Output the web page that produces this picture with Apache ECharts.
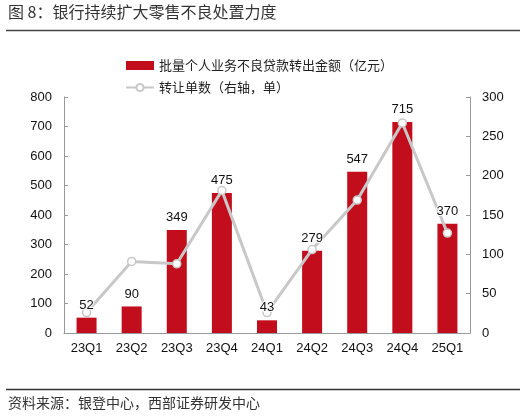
<!DOCTYPE html>
<html>
<head>
<meta charset="utf-8">
<script src="https://cdn.jsdelivr.net/npm/echarts@6/dist/echarts.min.js"></script>
<style>
  html, body { margin: 0; padding: 0; background: #fff; }
  #chart { width: 527px; height: 419px; }
</style>
</head>
<body>
<div id="chart"></div>
<script>
// 数据
var quarters = ['23Q1', '23Q2', '23Q3', '23Q4', '24Q1', '24Q2', '24Q3', '24Q4', '25Q1'];
var amounts = [52, 90, 349, 475, 43, 279, 547, 715, 370];   // 批量个人业务不良贷款转出金额（亿元）
var counts = [26, 91, 88, 181, 26, 106, 169, 267, 127];     // 转让单数（右轴，单）

var font = 'Liberation Sans, Arial, sans-serif';
var cjk = 'Noto Sans CJK SC, sans-serif';

var dom = document.getElementById('chart');
var myChart = echarts.init(dom);
var option = {
    animation: false,
    backgroundColor: '#fff',
    graphic: [
        { type: 'text', left: 8, top: 4, style: { text: '图 8：银行持续扩大零售不良处置力度', font: '16px ' + cjk, fill: '#333' } },
        { type: 'line', shape: { x1: 6, y1: 30.5, x2: 520, y2: 30.5 }, style: { stroke: '#444', lineWidth: 1.5 } },
        { type: 'line', shape: { x1: 6, y1: 389.5, x2: 520, y2: 389.5 }, style: { stroke: '#333', lineWidth: 1.5 } },
        { type: 'text', left: 8, top: 396, style: { text: '资料来源：银登中心，西部证券研发中心', font: '14px ' + cjk, fill: '#333' } }
    ],
    legend: {
        orient: 'vertical',
        left: 120,
        top: 54,
        itemGap: 9,
        itemWidth: 28,
        itemHeight: 9,
        textStyle: { fontFamily: cjk, fontSize: 13, color: '#222' },
        data: [
            { name: '批量个人业务不良贷款转出金额（亿元）', icon: 'rect' },
            { name: '转让单数（右轴，单）' }
        ]
    },
    grid: { left: 64, right: 57, top: 97, bottom: 86 },
    xAxis: {
        type: 'category',
        data: quarters,
        axisLine: { lineStyle: { color: '#999' } },
        axisTick: { inside: true, length: 4, lineStyle: { color: '#999' } },
        axisLabel: { color: '#111', fontFamily: font, fontSize: 13, margin: 9 }
    },
    yAxis: [
        {
            type: 'value', min: 0, max: 800, interval: 100,
            splitLine: { show: false },
            axisLine: { show: true, lineStyle: { color: '#999' } },
            axisTick: { show: true, inside: true, length: 4, lineStyle: { color: '#999' } },
            axisLabel: { color: '#111', fontFamily: font, fontSize: 13, margin: 12 }
        },
        {
            type: 'value', min: 0, max: 300, interval: 50,
            splitLine: { show: false },
            axisLine: { show: true, lineStyle: { color: '#999' } },
            axisTick: { show: true, inside: true, length: 4, lineStyle: { color: '#999' } },
            axisLabel: { color: '#111', fontFamily: font, fontSize: 13, margin: 12 }
        }
    ],
    series: [
        {
            name: '批量个人业务不良贷款转出金额（亿元）',
            type: 'bar',
            barWidth: 20,
            data: amounts,
            itemStyle: { color: '#C20E1C' }
        },
        {
            name: '转让单数（右轴，单）',
            type: 'line',
            yAxisIndex: 1,
            z: 3,
            data: counts,
            symbol: 'circle',
            symbolSize: 8,
            lineStyle: { color: '#C8C8C8', width: 3 },
            itemStyle: { color: '#fff', borderColor: '#C8C8C8', borderWidth: 1.5 }
        },
        {
            // 透明柱，仅用于把数值标签画在折线上方
            name: 'labels',
            type: 'bar',
            barWidth: 20,
            barGap: '-100%',
            z: 5,
            data: amounts,
            itemStyle: { color: 'rgba(0,0,0,0)' },
            label: {
                show: true, position: 'top', distance: 6, color: '#111',
                fontFamily: font, fontSize: 13,
                textBorderColor: '#fff', textBorderWidth: 2
            }
        }
    ]
};
myChart.setOption(option, true);
</script>
</body>
</html>
